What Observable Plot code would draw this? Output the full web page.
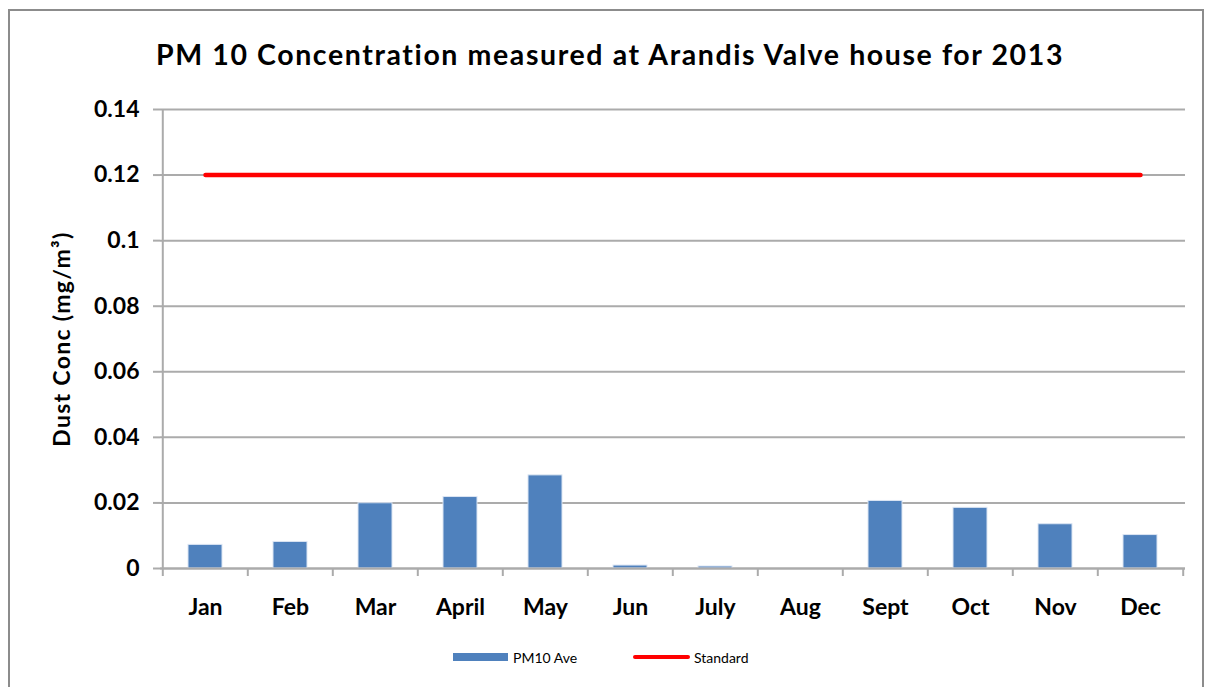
<!DOCTYPE html>
<html>
<head>
<meta charset="utf-8">
<script src="https://cdn.jsdelivr.net/npm/d3@7"></script>
<script src="https://cdn.jsdelivr.net/npm/@observablehq/plot@0.6"></script>
<style>
  html, body { margin: 0; padding: 0; background: #fff; }
  #wrap { position: relative; width: 1212px; height: 687px; overflow: hidden; font-family: Lato, "Open Sans", sans-serif; }
  #frame { position: absolute; left: 8px; top: 9px; width: 1196px; height: 700px; border: 2px solid #8c8c8c; box-sizing: border-box; }
  #title { position: absolute; left: 4px; width: 1212px; top: 37px; text-align: center; font-weight: bold; font-size: 28.5px; letter-spacing: 1.6px; color: #000; line-height: 34px; }
  #chart { position: absolute; left: 0; top: 0; }
  #legend { position: absolute; top: 649px; left: 0; width: 1212px; font-size: 14px; color: #000; }
  .li { position: absolute; top: 0; display: flex; align-items: center; height: 16px; }
</style>
</head>
<body>
<div id="wrap">
  <div id="frame"></div>
  <div id="chart"></div>
  <div id="title">PM 10 Concentration measured at Arandis Valve house for 2013</div>
  <div id="legend">
    <div class="li" style="left:453px"><span style="display:inline-block;width:55px;height:8px;background:#4f81bd;margin-right:5px"></span>PM10 Ave</div>
    <div class="li" style="left:633px"><span style="display:inline-block;width:57px;height:4px;border-radius:2px;background:#ff0000;margin-right:4px"></span>Standard</div>
  </div>
</div>
<script>
const months = ["Jan","Feb","Mar","April","May","Jun","July","Aug","Sept","Oct","Nov","Dec"];
const pm10 = [0.0072,0.0081,0.0199,0.0218,0.0284,0.0009,0.0006,0,0.0206,0.0185,0.0135,0.0102];
const standard = [0.12,0.12,0.12,0.12,0.12,0.12,0.12,0.12,0.12,0.12,0.12,0.12];
const yTicks = [0,0.02,0.04,0.06,0.08,0.1,0.12,0.14];

const data = months.map((m, i) => ({month: m, pm10: pm10[i], standard: standard[i]}));

const W = 1212, H = 640, mL = 160, mR = 27, mT = 109, mB = 72;
const step = (W - mL - mR) / months.length;
const gray = "#ababab";

const chart = Plot.plot({
  width: W, height: H,
  marginLeft: mL, marginRight: mR, marginTop: mT, marginBottom: mB,
  style: {fontFamily: "Lato, 'Open Sans', sans-serif", background: "transparent", overflow: "visible"},
  x: {domain: months, paddingInner: 0.6, paddingOuter: 0.3, label: null},
  y: {domain: [0, 0.14], label: null},
  marks: [
    Plot.gridY(yTicks, {stroke: gray, strokeOpacity: 1, strokeWidth: 2}),
    Plot.barY(data, {x: "month", y: "pm10", fill: "#4f81bd", stroke: "#dbe5f3", strokeWidth: 1}),
    Plot.ruleX(months, {x: d => d, dx: -step / 2, y1: 0, y2: 0, insetBottom: -8, stroke: gray, strokeWidth: 2}),
    Plot.ruleX(["Dec"], {x: d => d, dx: step / 2, y1: 0, y2: 0, insetBottom: -8, stroke: gray, strokeWidth: 2}),
    Plot.ruleX(["Jan"], {x: d => d, dx: -step / 2, y1: 0, y2: 0.14, stroke: gray, strokeWidth: 2}),
    Plot.ruleY([0], {stroke: gray, strokeWidth: 2}),
    Plot.axisY({ticks: yTicks, tickSize: 7, tickPadding: 14, stroke: gray, strokeWidth: 2,
      tickFormat: d => String(d), fontSize: 23, fontWeight: "bold", fill: "#000", label: null}),
    Plot.axisX({tickSize: 0, tickPadding: 30, fontSize: 23, fontWeight: "bold", fill: "#000", label: null}),
    Plot.lineY(data, {x: "month", y: "standard", stroke: "#ff0000", strokeWidth: 4.5}),
    Plot.text(["Dust Conc (mg/m³)"], {frameAnchor: "left", textAnchor: "middle", dx: -98, rotate: -90,
      fontSize: 23, fontWeight: "bold", fill: "#000", text: d => d})
  ]
});
chart.querySelectorAll("text").forEach(t => { if (t.textContent === "Dust Conc (mg/m³)") t.style.letterSpacing = "1.3px"; });
document.getElementById("chart").appendChild(chart);
</script>
</body>
</html>
